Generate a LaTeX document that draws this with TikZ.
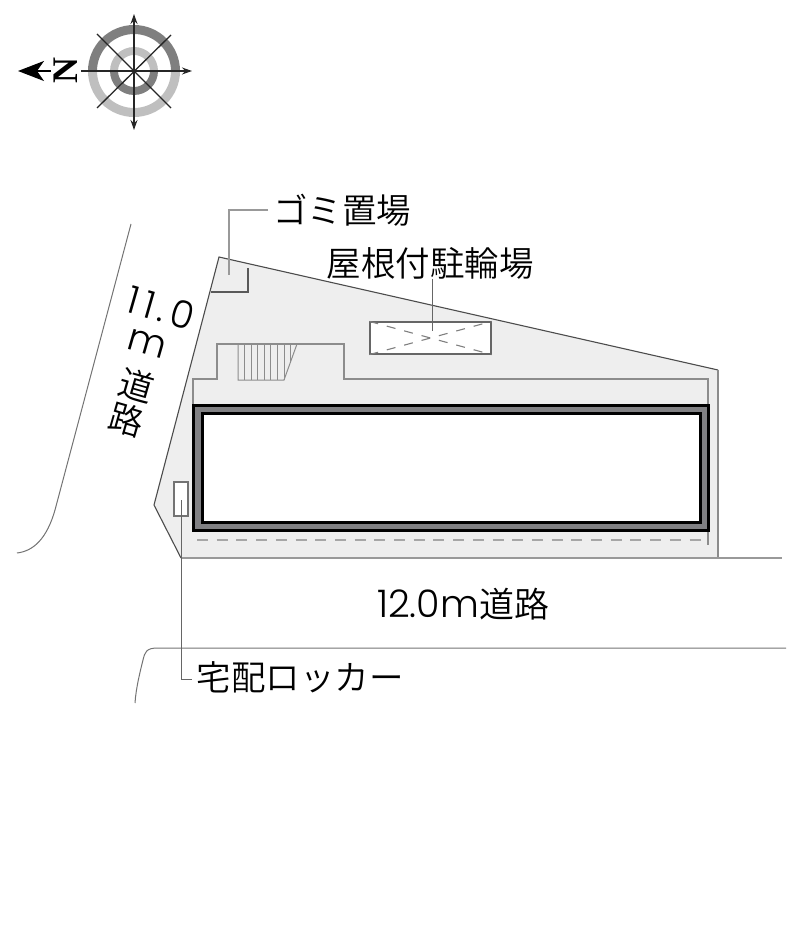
\documentclass[tikz,border=0pt]{standalone}
\usepackage{fontspec}
\usetikzlibrary{arrows.meta}
\setmainfont{Poppins Light}
\newfontfamily\jpfont{Noto Sans CJK JP DemiLight}
\newfontfamily\widefont[LetterSpace=14]{Poppins Light}
\definecolor{lotgray}{HTML}{EEEEEE}
\definecolor{wallgray}{HTML}{808083}
\definecolor{linegray}{HTML}{8C8C8C}
\definecolor{ringdark}{HTML}{7F7F7F}
\definecolor{ringlight}{HTML}{BFBFBF}
\tikzset{
  lotline/.style={draw=black!70, line width=1.1pt},
  innerline/.style={draw=linegray, line width=1.3pt},
  leaderline/.style={draw=black!60, line width=1pt},
  roadline/.style={draw=black!55, line width=1pt},
  jplabel/.style={inner sep=0pt, font=\jpfont\fontsize{34.5}{34.5}\selectfont},
  latinlabel/.style={inner sep=0pt, font=\widefont\fontsize{38}{38}\selectfont},
  compassline/.style={draw=black!85, line width=1.3pt},
  compasstip/.style={{Stealth[length=10pt, width=7pt]}-{Stealth[length=10pt, width=7pt]}},
  walledbox/.style={rectangle, draw=black, line width=3pt, inner sep=0pt},
  dot/.style={inner sep=0pt, minimum size=0pt},
}
\begin{document}
\begin{tikzpicture}[x=1pt, y=-1pt]
    \useasboundingbox (0, 0) rectangle (800, 941);
    % Lot
    \coordinate (lotA) at (219, 257);
    \coordinate (lotB) at (718, 370);
    \coordinate (lotC) at (718, 558);
    \coordinate (lotD) at (181, 558);
    \coordinate (lotE) at (154, 505);
    \fill[lotgray] (lotA) -- (lotB) -- (lotC) -- (lotD) -- (lotE) -- cycle;
    \draw[lotline] (lotD) -- (lotE) -- (lotA) -- (lotB);
    \draw[innerline] (lotB) -- (lotC);
    % Garbage corner
    \draw[innerline, draw=black!65] (248, 268) -- (248, 292) -- (211, 292);
    % Building outline
    \draw[innerline] (193, 405) -- (193, 379) -- (217, 379) -- (217, 344) -- (344, 344) -- (344, 379) -- (708, 379) -- (708, 545);
    % Stairs
    \draw[innerline, line width=1pt] (297, 344) -- (284, 380) -- (238, 380) -- (238, 344);
    \foreach \xpos in {244, 251, 257, 264, 270, 277, 284} {
        \draw[draw=linegray, line width=1pt] (\xpos, 344) -- (\xpos, 380);
    }
    \draw[draw=linegray, line width=1pt] (290, 344) -- (290, 362);
    % Building
    \node (building) at (450.5, 467.5) [walledbox, fill=wallgray, minimum width=515pt, minimum height=125pt] {};
    \node (core) at (451, 467.5) [walledbox, fill=white, minimum width=498pt, minimum height=109pt] {};
    % Paving line
    \draw[draw=black!35, line width=2.2pt, dash pattern=on 11pt off 8.7pt] (197, 540) -- (702, 540);
    % Bike shelter
    \node (shelter) at (430.5, 338) [rectangle, draw=black!60, line width=1.2pt, fill=white, minimum width=121pt, minimum height=32pt, inner sep=0pt] {};
    \draw[draw=black!50, line width=1.1pt, dash pattern=on 9pt off 9pt] (shelter.north west) -- (shelter.south east);
    \draw[draw=black!50, line width=1.1pt, dash pattern=on 9pt off 9pt] (shelter.south west) -- (shelter.north east);
    % Locker
    \node (locker) at (181, 499) [rectangle, draw=black!55, line width=1.6pt, fill=white, minimum width=14pt, minimum height=34pt, inner sep=0pt] {};
    % Roads
    \coordinate (roadA) at (782, 558);
    \draw[roadline, draw=black!40, line width=1.6pt] (lotD) -- (roadA);
    \draw[roadline] (786, 648) -- (158, 648) .. controls (146, 648) and (145, 652) .. (143, 660) .. controls (140, 672) and (136, 688) .. (135, 703);
    \draw[roadline] (131, 224) -- (55, 510) .. controls (47, 538) and (34, 551) .. (17, 553);
    % Labels
    \node (gomi) at (342, 210) [jplabel] {ゴミ置場};
    \node (bike) at (430, 263) [jplabel] {屋根付駐輪場};
    \node (frontroad) at (463, 604) [anchor=center, inner sep=0pt] {\fontsize{38}{38}\selectfont 12.0m\jpfont\fontsize{35}{35}\selectfont 道路};
    \node (lockerlabel) at (300, 677) [jplabel] {宅配ロッカー};
    \node (sidewidth) at (161, 308) [latinlabel, rotate=-16] {11.0};
    \node (sideunit) at (147, 344) [inner sep=0pt, font=\fontsize{38}{38}\selectfont, rotate=-16] {m};
    \node (sideroadA) at (137, 386) [jplabel, rotate=-16] {道};
    \node (sideroadB) at (127, 420) [jplabel, rotate=-16] {路};
    % Leaders
    \coordinate (gomiA) at (268, 210);
    \coordinate (gomiB) at (229, 210);
    \coordinate (gomiC) at (229, 275);
    \coordinate (bikeA) at (432, 279);
    \coordinate (bikeB) at (432, 331);
    \coordinate (lockerA) at (181, 500);
    \coordinate (lockerB) at (181, 679);
    \coordinate (lockerC) at (192, 679);
    \draw[leaderline, draw=black!40, line width=1.2pt] (gomiA) -- (gomiB) -- (gomiC);
    \draw[leaderline] (bikeA) -- (bikeB);
    \draw[leaderline] (lockerA) -- (lockerB) -- (lockerC);
    % Compass (y axis points down here, so the arcs turn the other way)
    \node (compass) at (134, 71) [dot] {};
    \fill[ringlight] (88, 71) arc (180:0:46) -- (171, 71) arc (0:180:37) -- cycle;
    \fill[ringdark] (88, 71) arc (-180:0:46) -- (171, 71) arc (0:-180:37) -- cycle;
    \fill[ringdark] (110, 71) arc (180:0:24) -- (150, 71) arc (0:180:16) -- cycle;
    \fill[ringlight] (110, 71) arc (-180:0:24) -- (150, 71) arc (0:-180:16) -- cycle;
    \coordinate (north) at (134, 14);
    \coordinate (south) at (134, 130);
    \coordinate (east) at (192, 71);
    \coordinate (west) at (81, 71);
    \draw[compassline, compasstip] (south) -- (north);
    \draw[compassline, -{Stealth[length=10pt, width=7pt]}] (west) -- (east);
    \draw[compassline] (97, 34) -- (171, 108);
    \draw[compassline] (97, 108) -- (171, 35);
    \node (needle) at (66, 71) [inner sep=0pt, rotate=90, font=\fontspec{Liberation Serif}\bfseries\fontsize{36}{36}\selectfont] {N};
    \coordinate (arrowA) at (51, 71);
    \coordinate (arrowB) at (18, 71);
    \draw[black, line width=1.6pt, -{Stealth[length=26pt, width=20pt, inset=7pt]}] (arrowA) -- (arrowB);
\end{tikzpicture}
\end{document}
